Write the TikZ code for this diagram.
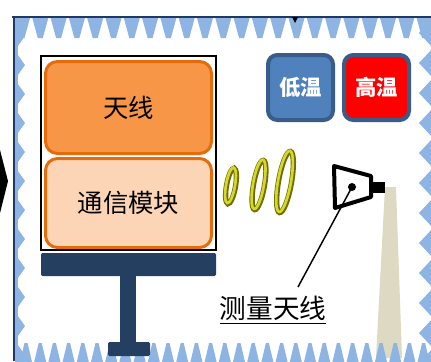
\documentclass[tikz,border=0pt]{standalone}
\usepackage{fontspec}
\newfontfamily\cjk{Noto Sans CJK SC}
\usetikzlibrary{positioning}

\definecolor{absorb}{RGB}{141,180,226}
\definecolor{wall}{RGB}{31,56,100}
\definecolor{antfill}{RGB}{247,150,70}
\definecolor{antline}{RGB}{228,108,10}
\definecolor{modfill}{RGB}{251,213,181}
\definecolor{standblue}{RGB}{36,63,96}
\definecolor{coldblue}{RGB}{79,129,189}
\definecolor{btnline}{RGB}{56,93,138}
\definecolor{mast}{RGB}{221,217,195}
\definecolor{ringdark}{RGB}{110,110,0}
\definecolor{ringlight}{RGB}{215,215,40}

\tikzstyle{layer} = [shape=rectangle, rounded corners=9pt,
		draw=antline, line width=2.25pt,
		minimum width=124.5pt, inner sep=0pt,
		font=\cjk\fontsize{19}{20}\selectfont]
\tikzstyle{button} = [shape=rectangle, rounded corners=7pt,
		draw=btnline, line width=3pt,
		minimum width=48.75pt, minimum height=48.75pt,
		inner sep=0pt, text=white,
		font=\cjk\bfseries\fontsize{16}{18}\selectfont]
\tikzstyle{metal} = [shape=rectangle, fill=standblue,
		rounded corners=1pt, inner sep=0pt]

\begin{document}
\begin{tikzpicture}[x=0.75pt, y=-0.75pt]
	\useasboundingbox (0,0) rectangle (431,361);
	% ceiling cones
	\foreach \k in {0,...,22} {
		\pgfmathsetmacro\c{22+18.3*\k}
		\fill[absorb] (\c-8,18) -- (\c-2.5,38) -- (\c+2.5,38) -- (\c+8,18) -- cycle;
	}
	% mast under the horn
	\fill[mast] (385,187) -- (396,187) -- (402,358) -- (376,358) -- cycle;
	% absorber cones on the side walls and floor
	\begin{scope}
		\clip (14,17) rectangle (431,361);
		\fill[absorb] (14,17) rectangle (18,361);
		\foreach \k in {-1,...,10} {
			\pgfmathsetmacro\c{65+29*\k}
			\fill[absorb] (15,\c-14) -- (25,\c) -- (15,\c+14) -- cycle;
		}
		\foreach \k in {-1,...,10} {
			\pgfmathsetmacro\c{63+30*\k}
			\fill[absorb] (433,\c-15) -- (419,\c) -- (433,\c+15) -- cycle;
		}
		\foreach \k in {0,...,29} {
			\pgfmathsetmacro\c{26+14.2*\k}
			\fill[absorb] (\c-6,362) -- (\c-1.5,343) -- (\c+1.5,343) -- (\c+6,362) -- cycle;
		}
	\end{scope}
	\draw[wall, line width=1.5pt] (12,17) -- (431,17);
	\draw[wall, line width=1.8pt] (14,17) -- (14,361);
	\fill (292,17) -- (298,17) -- (295,23) -- cycle;
	\fill (0,150) -- (8,181) -- (0,213) -- cycle;

	% device under test on its stand
	\node[draw, line width=1.5pt, minimum width=131.25pt, minimum height=145.5pt, inner sep=0pt] (cabinet) at (128.5,153) {};
	\node[layer, fill=antfill, minimum height=69pt] (antenna) at (128.5,107.5) {天线};
	\node[layer, fill=modfill, minimum height=66.75pt] (module) at (128.5,203) {通信模块};
	\node[metal, minimum width=131.25pt, minimum height=17.25pt] (plate) at (128.5,264.5) {};
	\node[metal, rounded corners=0pt, minimum width=12pt, minimum height=51pt] (pole) at (128,310) {};
	\node[metal, minimum width=31.5pt, minimum height=10.5pt] (foot) at (129,349) {};

	% temperature buttons
	\node[button, fill=coldblue] (lowtemp) at (300.5,87.5) {低温};
	\node[button, fill=red, right=5.25pt of lowtemp] (hightemp) {高温};

	% radiated wave rings
	\foreach \cx/\cy/\rx/\ry in {231/186/4.5/18, 259/185/5.5/25, 285/182/6.5/31} {
		\draw[ringdark, line width=4pt, rotate around={-10:(\cx,\cy)}] (\cx,\cy) ellipse [x radius=\rx, y radius=\ry];
		\draw[ringlight, line width=2pt, rotate around={-10:(\cx,\cy)}] (\cx-0.6,\cy-0.6) ellipse [x radius=\rx, y radius=\ry];
	}

	% measuring horn
	\draw[line width=3pt, line join=round] (334,166) -- (371,176) -- (371,197) -- (335,208) -- cycle;
	\fill (371,182) rectangle (385,193);
	\node[circle, fill, inner sep=0pt, minimum size=6pt] (feed) at (352,187) {};
	\coordinate (lead) at (298,287);
	\draw[line width=1.1pt] (feed.center) -- (lead);
	\node[font=\cjk\fontsize{20}{22}\selectfont, inner sep=0pt] (probe) at (273,310) {\underline{测量天线}};
\end{tikzpicture}
\end{document}
